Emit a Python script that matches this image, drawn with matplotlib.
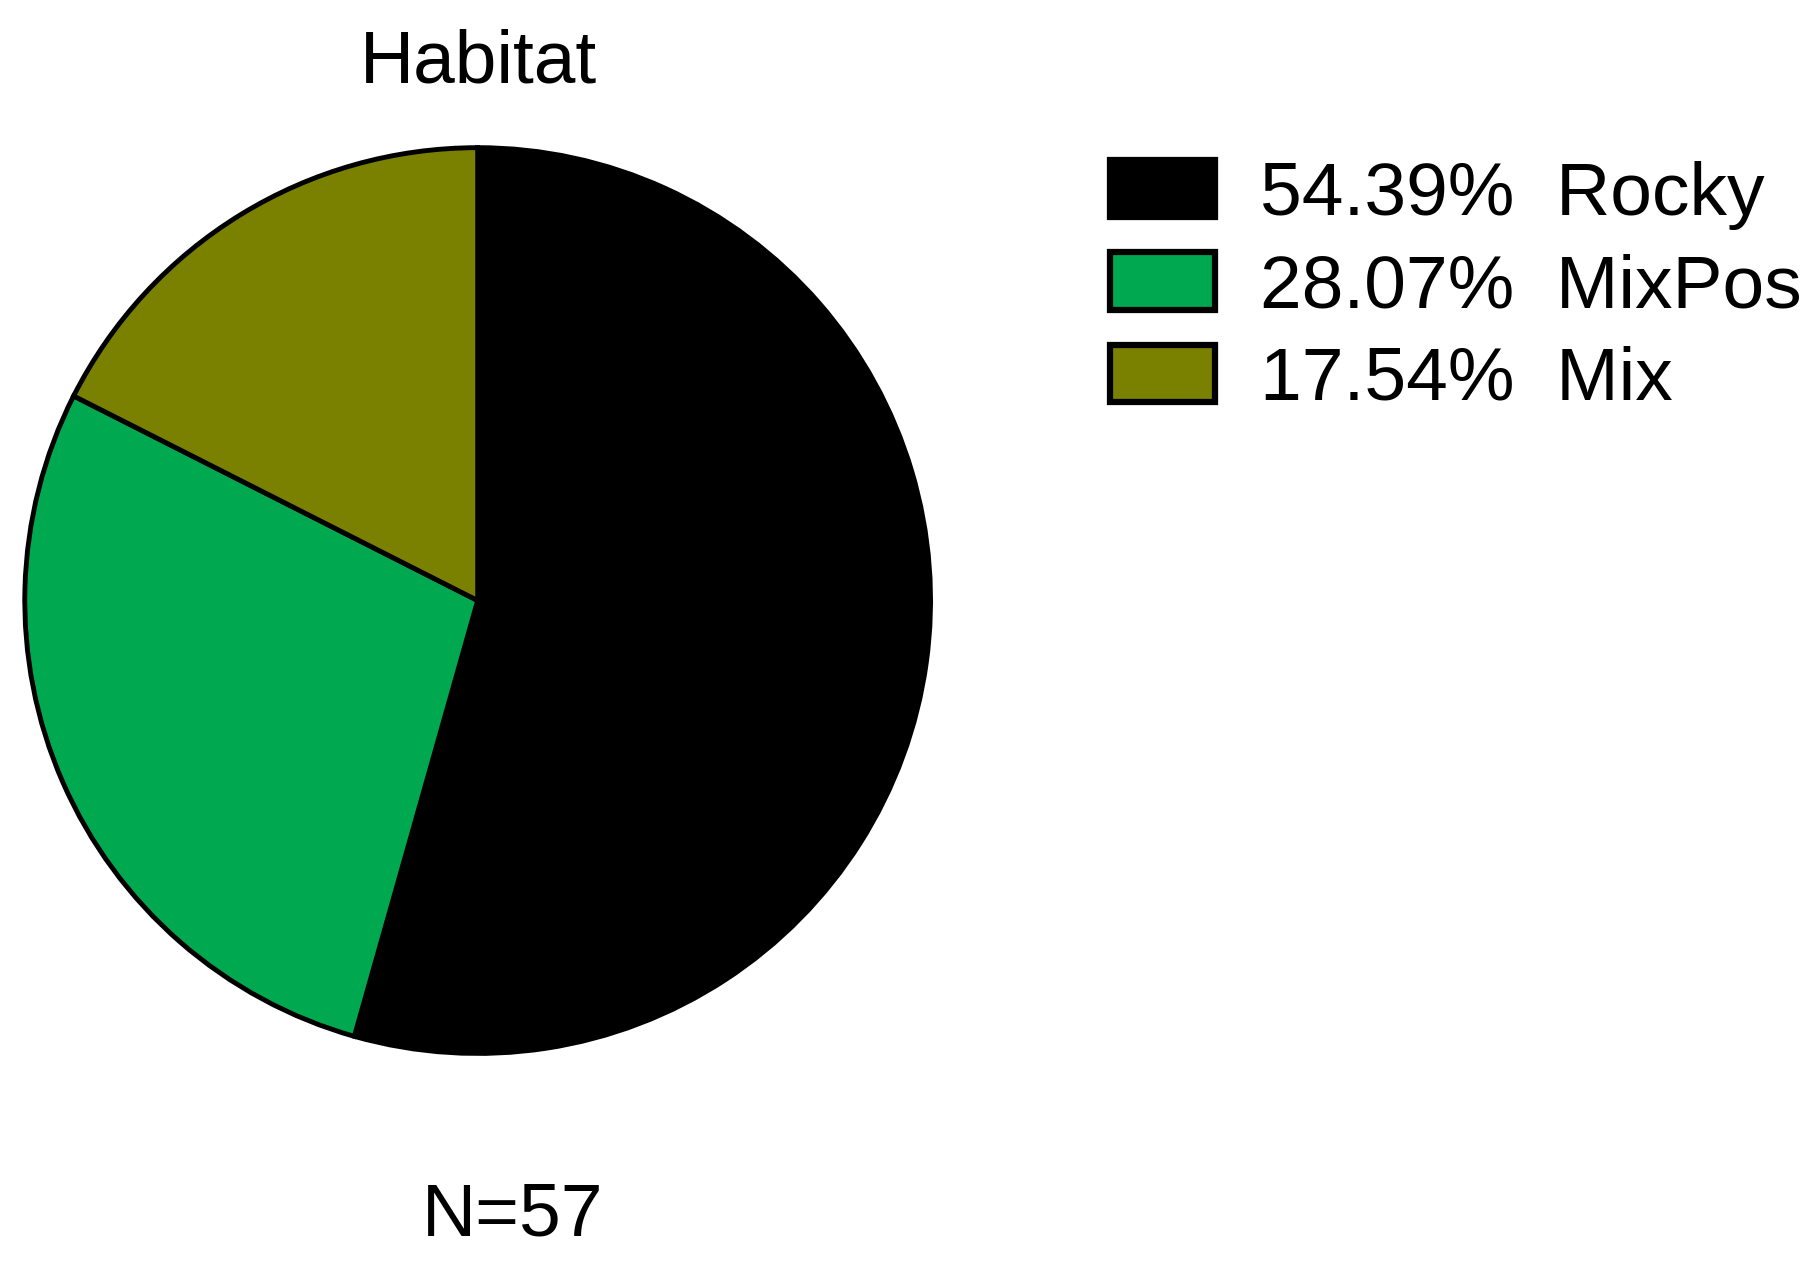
import matplotlib.pyplot as plt
from matplotlib.patches import Patch

plt.rcParams["font.family"] = ["Liberation Sans", "DejaVu Sans"]

categories = ["Rocky", "MixPos", "Mix"]
percentages = [54.39, 28.07, 17.54]
colors = ["#000000", "#00a84f", "#7a8000"]
n_total = 57

fig = plt.figure(figsize=(18.08, 12.67), dpi=100)
ax = fig.add_axes([0.0127, 0.167, 0.503, 0.718])
ax.pie(percentages, colors=colors, startangle=90, counterclock=False, radius=1.245,
       wedgeprops={"edgecolor": "black", "linewidth": 3.5})
ax.set_aspect("equal")

fig.text(478 / 1808, 1 - 63 / 1267, "Habitat", ha="center", va="center", fontsize=54)
fig.text(513 / 1808, 1 - 1216 / 1267, f"N={n_total}", ha="center", va="center", fontsize=54)

handles = [Patch(facecolor=c, edgecolor="black", linewidth=4.5) for c in colors]
labels = [f"{p:.2f}%  {name}" for p, name in zip(percentages, categories)]
fig.legend(handles, labels, loc="upper left", bbox_to_anchor=(1110 / 1808, 1 - 160 / 1267),
           frameon=False, fontsize=54, handlelength=1.4, handleheight=0.8,
           handletextpad=0.6, labelspacing=0.3, borderaxespad=0, borderpad=0)

fig.savefig("out.png", dpi=100)
